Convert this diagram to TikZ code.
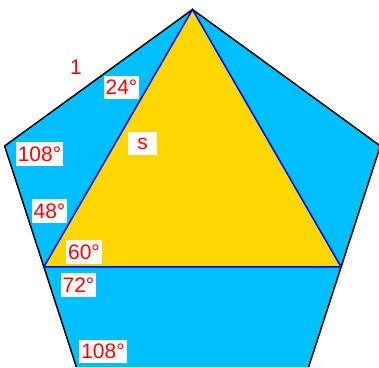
\documentclass[tikz,border=0pt]{standalone}
\usepackage{fontspec}
\setmainfont{Liberation Sans}
\usetikzlibrary{calc}
\definecolor{skyfill}{HTML}{00BFFF}
\definecolor{goldfill}{HTML}{FFD700}
\begin{document}
\begin{tikzpicture}[x=1pt,y=-1pt,
  lbl/.style={fill=white, text=red, inner xsep=2pt, inner ysep=4.5pt, font=\fontsize{21}{24}\selectfont},
  plain/.style={text=red, inner sep=1pt, font=\fontsize{21}{24}\selectfont},
  pentedge/.style={black, line width=1.5pt, line join=miter},
  triedge/.style={blue, line width=1.5pt, line join=miter}]
\useasboundingbox (0,0) rectangle (379,367);
\clip (0,0) rectangle (379,367);
% pentagon vertices
\coordinate (T) at (192.5,9.5);
\coordinate (R) at (380.4,146);
\coordinate (BR) at (308.6,367);
\coordinate (BL) at (76.4,367);
\coordinate (L) at (4.6,146);
% triangle base vertices
\coordinate (P) at ($(L)!0.5473!(BL)$);
\coordinate (Q) at ($(R)!0.5473!(BR)$);
\fill[skyfill] (T) -- (R) -- (BR) -- (BL) -- (L) -- cycle;
\fill[goldfill] (T) -- (P) -- (Q) -- cycle;
\draw[pentedge] (BR) -- (R) -- (T) -- (L) -- (BL);
\draw[triedge] (T) -- (P) -- (Q) -- cycle;
% labels
\node[plain] (n1) at (76,67) {1};
\node[lbl] (a24) at (121.5,87.5) {24°};
\node[lbl, minimum width=29pt, minimum height=23pt, inner sep=0pt] (ls) at (142.5,143.5) {s};
\node[lbl] (a108a) at (39.5,154) {108°};
\node[lbl] (a48) at (49.5,211) {48°};
\node[lbl] (a60) at (84,252) {60°};
\node[lbl] (a72) at (78.5,285) {72°};
\node[lbl] (a108b) at (103,351.5) {108°};
\end{tikzpicture}
\end{document}
